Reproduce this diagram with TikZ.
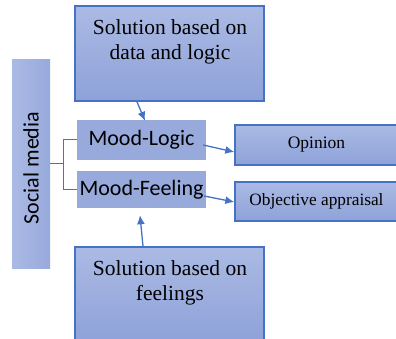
\documentclass[tikz,border=0pt]{standalone}
\usepackage{fontspec}
\setmainfont{Liberation Serif}
\newfontfamily\calib{Carlito}
\usetikzlibrary{arrows.meta,calc}
\definecolor{bord}{HTML}{4472C4}
\definecolor{ftop}{HTML}{ABBAE4}
\definecolor{fbot}{HTML}{8EA2D9}
\definecolor{mfill}{HTML}{98AADC}
\tikzset{
  bigbox/.style={draw=bord,line width=1.6pt,top color=ftop,bottom color=fbot,minimum width=189pt,inner sep=0pt},
  outbox/.style={draw=bord,line width=1.4pt,top color=ftop,bottom color=fbot,minimum width=163pt,minimum height=40pt,inner sep=0pt},
  moodbox/.style={fill=mfill,minimum width=129pt,inner sep=0pt,font=\calib\fontsize{22}{24}\selectfont},
  arr/.style={draw=bord,line width=1.3pt,-{Latex[length=9pt,width=8pt]}},
  link/.style={draw=bord,line width=1pt},
  sertext/.style={align=center,font=\fontsize{21.5}{25.5}\selectfont,inner sep=0pt}
}
\begin{document}
\begin{tikzpicture}[x=1pt,y=-1pt]
\useasboundingbox (0,0) rectangle (396,339);
% boxes
\node[bigbox,minimum height=95pt] (top) at (169.5,53.5) {};
\node[sertext] (toptext) at (170,42) {Solution based on\\data and logic};
\node[bigbox,minimum height=96pt] (bot) at (169.5,295) {};
\node[sertext] (bottext) at (170,283) {Solution based on\\feelings};
\node[left color=ftop,right color=mfill,minimum width=38pt,minimum height=208pt,inner sep=0pt] (sm) at (31,164) {};
\node[rotate=90,font=\calib\fontsize{22}{24}\selectfont] (smtext) at (31,168) {Social media};
\node[moodbox,minimum height=40pt] (ml) at (141.5,140) {Mood-Logic};
\node[moodbox,minimum height=37pt] (mf) at (141.5,189.5) {Mood-Feeling};
\node[outbox,font=\fontsize{17.5}{20}\selectfont] (op) at (316.5,145) {Opinion};
\node[outbox,minimum height=39pt,font=\fontsize{17.3}{20}\selectfont] (ob) at (316.5,201.5) {Objective appraisal};
% connectors
\draw[link] (sm.east) -- ++(13,0) coordinate (j);
\draw[link] (j) |- (ml.west);
\draw[link] (j) |- (mf.west);
\draw[arr] ($(top.south)+(-32.5,0)$) -- ($(ml.north)+(3.5,1)$);
\draw[arr] ($(ml.east)+(-3,5)$) -- ($(op.west)+(0,7)$);
\draw[arr] ($(mf.east)+(-2,6.5)$) -- ($(ob.west)+(0,0.5)$);
\draw[arr] ($(bot.north)+(-26.5,0)$) -- ($(mf.south)+(-1.5,7)$);
\end{tikzpicture}
\end{document}
